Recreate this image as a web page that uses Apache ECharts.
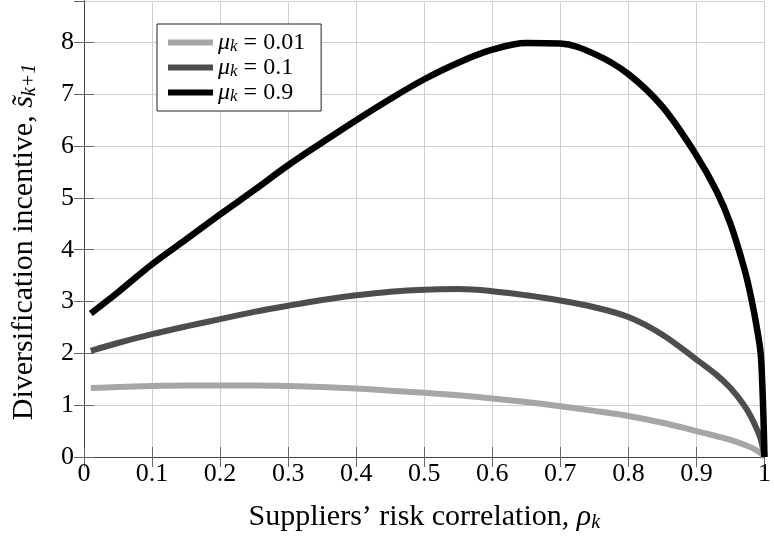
<!DOCTYPE html>
<html>
<head>
<meta charset="utf-8">
<script src="https://cdn.jsdelivr.net/npm/echarts@6/dist/echarts.min.js"></script>
<style>
  html, body { margin: 0; padding: 0; background: #fff; }
  #chart { width: 774px; height: 541px; }
</style>
</head>
<body>
<div id="chart"></div>
<script>
const rho = [0.01, 0.05, 0.1, 0.15, 0.2, 0.25, 0.3, 0.35, 0.4, 0.45, 0.5, 0.55, 0.6,
  0.65, 0.7, 0.75, 0.8, 0.85, 0.9, 0.93, 0.95, 0.97, 0.98, 0.99, 0.995, 1];

const mu001 = [1.33, 1.35, 1.37, 1.38, 1.38, 1.38, 1.37, 1.35, 1.32, 1.28, 1.24, 1.19, 1.13,
  1.06, 0.98, 0.89, 0.79, 0.66, 0.5, 0.4, 0.33, 0.24, 0.185, 0.115, 0.07, 0];
const mu01 = [2.05, 2.2, 2.37, 2.52, 2.66, 2.8, 2.92, 3.03, 3.12, 3.19, 3.23, 3.24, 3.2,
  3.12, 3.02, 2.89, 2.7, 2.36, 1.88, 1.58, 1.33, 1.0, 0.78, 0.5, 0.32, 0];
const mu09 = [2.77, 3.18, 3.72, 4.2, 4.68, 5.15, 5.63, 6.07, 6.5, 6.91, 7.29, 7.61, 7.86,
  7.99, 7.98, 7.78, 7.39, 6.76, 5.82, 5.12, 4.5, 3.65, 3.1, 2.4, 1.9, 0];

const seriesNames = ["0.01", "0.1", "0.9"];
const seriesColors = ["#a6a6a4", "#4d4d4d", "#000000"];
const xTicks = { min: 0, max: 1, interval: 0.1 };
const yTicks = { min: 0, max: 8.8, interval: 1 };

const FONT = "Liberation Serif";
const pair = (ys) => rho.map((x, i) => [x, ys[i]]);

const chart = echarts.init(document.getElementById("chart"));

const frameAxis = {
    axisLine: { show: true, lineStyle: { color: "#444", width: 1 } },
    axisTick: { show: true, inside: true, length: 10, lineStyle: { color: "#666" } },
};

// rich styles for italic symbol + lowered subscript
const mathRich = (size, subSize, lh) => ({
    i: { fontFamily: FONT, fontStyle: "italic", fontSize: size, lineHeight: lh },
    s: { fontFamily: FONT, fontStyle: "italic", fontSize: subSize, lineHeight: Math.round(subSize * 0.9), verticalAlign: "bottom" },
    n: { fontFamily: FONT, fontSize: size, lineHeight: lh },
});

const option = {
    animation: false,
    grid: { left: 84, right: 6, top: 1, bottom: 84 },
    legend: {
        left: 157,
        top: 24,
        orient: "vertical",
        icon: "rect",
        itemWidth: 45,
        itemHeight: 6,
        itemGap: 0,
        padding: [6, 16, 6, 11],
        backgroundColor: "#fff",
        borderColor: "#222",
        borderWidth: 1,
        borderRadius: 0,
        formatter: (name) => "{i|μ}{s|k}{n| = " + name + "}",
        textStyle: {
            fontFamily: FONT,
            color: "#000",
            lineHeight: 25,
            rich: mathRich(24, 17, 25),
        },
        data: seriesNames,
    },
    xAxis: [
        {
            type: "value",
            position: "bottom",
            min: xTicks.min,
            max: xTicks.max,
            interval: xTicks.interval,
            ...frameAxis,
            axisLabel: { fontFamily: FONT, fontSize: 26, color: "#000", margin: 4 },
            splitLine: { show: true, lineStyle: { color: "#cfcfcf", width: 1 } },
            name: "{n|Suppliers’ risk correlation, }{i|ρ}{s|k}",
            nameLocation: "middle",
            nameGap: 44,
            nameTextStyle: {
                fontFamily: FONT,
                fontSize: 30,
                color: "#000",
                verticalAlign: "top",
                rich: mathRich(30, 20, 32),
            },
        },
        {
            type: "value",
            position: "top",
            min: xTicks.min,
            max: xTicks.max,
            interval: xTicks.interval,
            ...frameAxis,
            axisLabel: { show: false },
            splitLine: { show: false },
        },
    ],
    yAxis: [
        {
            type: "value",
            position: "left",
            min: yTicks.min,
            max: yTicks.max,
            interval: yTicks.interval,
            ...frameAxis,
            axisLabel: { fontFamily: FONT, fontSize: 26, color: "#000", margin: 10, showMaxLabel: false },
            splitLine: { show: true, lineStyle: { color: "#cfcfcf", width: 1 } },
            name: "{n|Diversification incentive, }{i|s̃}{s|k+1}",
            nameLocation: "middle",
            nameRotate: 90,
            nameGap: 44,
            nameTextStyle: {
                fontFamily: FONT,
                fontSize: 30,
                color: "#000",
                padding: [0, 26, 0, 0],
                rich: mathRich(30, 20, 32),
            },
        },
        {
            type: "value",
            position: "right",
            min: yTicks.min,
            max: yTicks.max,
            interval: yTicks.interval,
            ...frameAxis,
            axisLabel: { show: false },
            splitLine: { show: false },
        },
    ],
    series: [mu001, mu01, mu09].map((ys, i) => ({
        name: seriesNames[i],
        type: "line",
        data: pair(ys),
        smooth: 0.35,
        showSymbol: false,
        symbol: "none",
        clip: false,
        color: seriesColors[i],
        lineStyle: { color: seriesColors[i], width: i === 2 ? 6.5 : 6, join: "miter", cap: "butt" },
    })),
};

chart.setOption(option);
window.addEventListener("resize", () => chart.resize());
</script>
</body>
</html>
